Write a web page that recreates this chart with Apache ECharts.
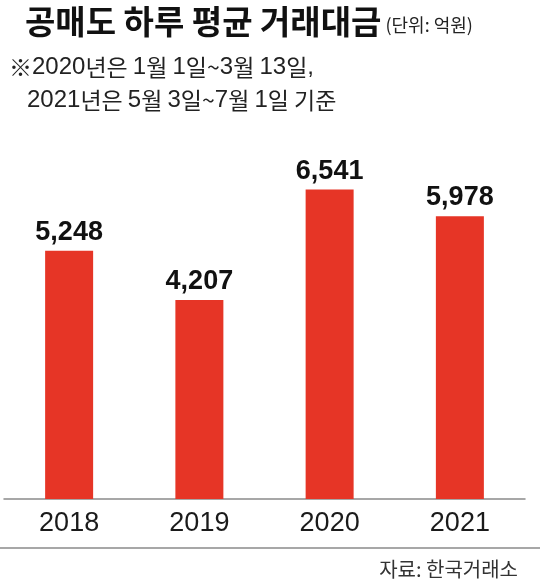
<!DOCTYPE html>
<html>
<head>
<meta charset="utf-8">
<script src="https://cdn.jsdelivr.net/npm/echarts@6/dist/echarts.min.js"></script>
<style>
html,body{margin:0;padding:0;background:#fff;}
#main{width:540px;height:582px;}
</style>
</head>
<body>
<div id="main"></div>
<script>
// 공매도 하루 평균 거래대금 (단위: 억원)
var years = ['2018', '2019', '2020', '2021'];
var values = [5248, 4207, 6541, 5978];
var noteLines = ['※2020년은 1월 1일~3월 13일,', '2021년은 5월 3일~7월 1일 기준'];

var NUM = '"Liberation Sans Narrow", "Arial Narrow", "Liberation Sans", sans-serif';
var KR = '"Noto Sans CJK KR", sans-serif';

// 숫자와 한글을 나눠서 rich 텍스트로
function richText(str) {
	var parts = str.match(/[0-9,]+|[^0-9,]+/g) || [];
	var out = '';
	for (var i = 0; i < parts.length; i++) {
		var p = parts[i];
		out += (/^[0-9,]+$/.test(p) ? '{n|' : '{k|') + p + '}';
	}
	return out;
}

var noteRich = {
	n: { fontFamily: NUM, fontSize: 24, fontWeight: 'normal', color: '#222' },
	k: { fontFamily: KR, fontSize: 23, fontWeight: 'normal', color: '#222' }
};

var myChart = echarts.init(document.getElementById('main'));
var option = {
	backgroundColor: '#fff',
	animation: false,
	title: [
		{
			text: '{a|공매도 하루 평균 거래대금}{b| (단위: 억원)}',
			left: 20,
			top: 0,
			textStyle: {
				fontWeight: 'normal',
				rich: {
					a: { fontFamily: KR, fontSize: 33, fontWeight: 'bold', color: '#111' },
					b: { fontFamily: KR, fontSize: 18, fontWeight: 'normal', color: '#222', padding: [7, 0, 0, 0] }
				}
			}
		},
		{
			text: richText(noteLines[0]),
			left: 4,
			top: 50,
			textStyle: { fontWeight: 'normal', rich: noteRich }
		},
		{
			text: richText(noteLines[1]),
			left: 22,
			top: 83,
			textStyle: { fontWeight: 'normal', rich: noteRich }
		},
		{
			text: '자료: 한국거래소',
			right: 17,
			top: 554,
			textStyle: { fontFamily: KR, fontSize: 20, fontWeight: 'normal', color: '#333' }
		}
	],
	grid: {
		left: 4,
		right: 15,
		top: 26,
		bottom: 83,
		containLabel: false
	},
	xAxis: {
		type: 'category',
		data: years,
		axisLine: { show: true, lineStyle: { color: '#8a8a8a', width: 1.5 } },
		axisTick: { show: false },
		axisLabel: {
			margin: 11,
			fontFamily: NUM,
			fontSize: 27,
			color: '#1a1a1a'
		}
	},
	yAxis: {
		type: 'value',
		min: 0,
		max: 10000,
		show: false,
		splitLine: { show: false }
	},
	graphic: [
		{
			type: 'line',
			shape: { x1: 0, y1: 548, x2: 540, y2: 548 },
			style: { stroke: '#8a8a8a', lineWidth: 1.5 }
		}
	],
	series: [
		{
			type: 'bar',
			data: values,
			barWidth: 48,
			itemStyle: { color: '#e63526' },
			label: {
				show: true,
				position: 'top',
				distance: 5,
				fontFamily: NUM,
				fontSize: 27,
				fontWeight: 'bold',
				color: '#111',
				formatter: function (p) {
					return p.value.toLocaleString('en-US');
				}
			}
		}
	]
};
myChart.setOption(option, true);
</script>
</body>
</html>
